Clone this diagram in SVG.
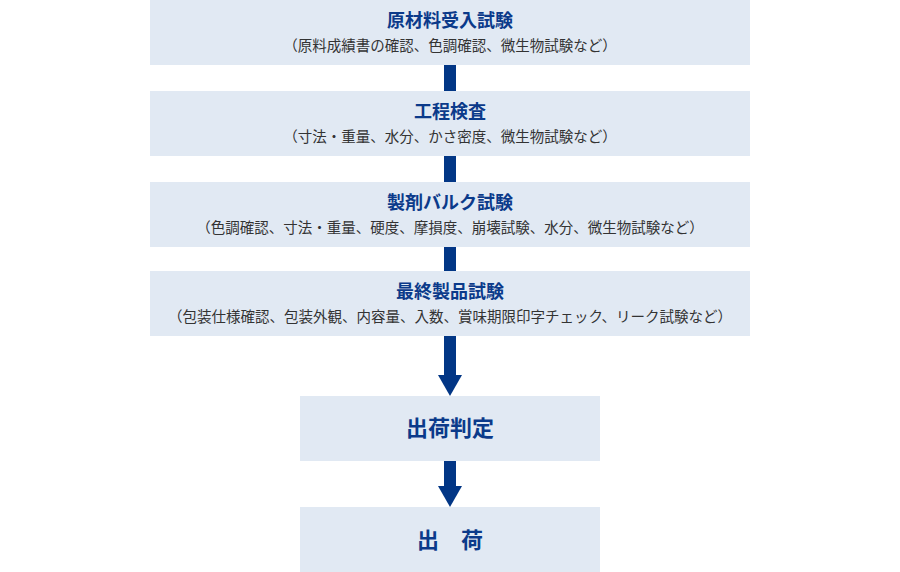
<svg xmlns="http://www.w3.org/2000/svg" width="900" height="572" viewBox="0 0 900 572">
<style>
.box{fill:#e1e9f3}
.t{font-family:"Noto Sans CJK JP","Noto Sans CJK SC",sans-serif;font-weight:bold;font-size:18px;fill:#0b3a8a;text-anchor:middle}
.tl{font-family:"Noto Sans CJK JP","Noto Sans CJK SC",sans-serif;font-weight:bold;font-size:22px;fill:#0b3a8a;text-anchor:middle}
.s{font-family:"Noto Sans CJK JP","Noto Sans CJK SC",sans-serif;font-size:14.5px;fill:#333333;text-anchor:middle}
.c{fill:#023685}
</style>
<g id="connectors">
<rect class="c" x="444" y="65" width="12" height="26"/>
<rect class="c" x="444" y="156" width="12" height="26"/>
<rect class="c" x="444" y="247" width="12" height="24"/>
<rect class="c" x="444" y="336" width="12" height="40"/>
<polygon class="c" points="438,375 462,375 450,396"/>
<rect class="c" x="444" y="461" width="12" height="26"/>
<polygon class="c" points="438,486 462,486 450,507"/>
</g>
<g id="node1">
<rect class="box" x="150" y="0" width="600" height="65"/>
<text class="t" x="450" y="27">原材料受入試験</text>
<text class="s" x="450" y="51">（原料成績書の確認、色調確認、微生物試験など）</text>
</g>
<g id="node2">
<rect class="box" x="150" y="91" width="600" height="65"/>
<text class="t" x="450" y="118">工程検査</text>
<text class="s" x="450" y="142">（寸法・重量、水分、かさ密度、微生物試験など）</text>
</g>
<g id="node3">
<rect class="box" x="150" y="182" width="600" height="65"/>
<text class="t" x="450" y="209">製剤バルク試験</text>
<text class="s" x="450" y="233">（色調確認、寸法・重量、硬度、摩損度、崩壊試験、水分、微生物試験など）</text>
</g>
<g id="node4">
<rect class="box" x="150" y="271" width="600" height="65"/>
<text class="t" x="450" y="298">最終製品試験</text>
<text class="s" x="450" y="322">（包装仕様確認、包装外観、内容量、入数、賞味期限印字チェック、リーク試験など）</text>
</g>
<g id="node5">
<rect class="box" x="300" y="396" width="300" height="65"/>
<text class="tl" x="450" y="436">出荷判定</text>
</g>
<g id="node6">
<rect class="box" x="300" y="507" width="300" height="65"/>
<text class="tl" x="450" y="548">出　荷</text>
</g>
</svg>
